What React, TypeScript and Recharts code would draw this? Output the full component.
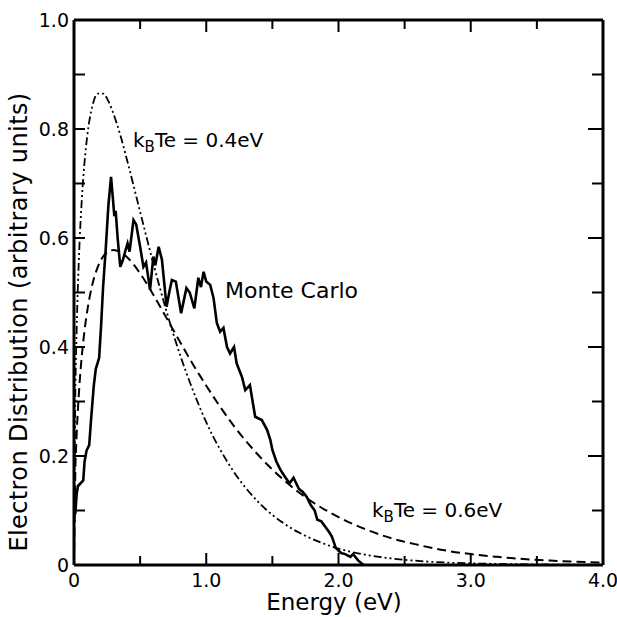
import React from "react";
import { LineChart, Line, XAxis, YAxis } from "recharts";

// Theory curves
const energyTheory = [0, 0.01, 0.02, 0.04, 0.06, 0.08, 0.1, 0.14, 0.18, 0.22, 0.26, 0.3, 0.35, 0.4, 0.5, 0.6, 0.7, 0.8, 0.9, 1.0, 1.2, 1.4, 1.6, 1.8, 2.0, 2.2, 2.4, 2.6, 2.8, 3.0, 3.2, 3.4, 3.6, 3.8, 4.0];
const kT04 = [0, 0.31, 0.43, 0.58, 0.674, 0.74, 0.787, 0.843, 0.865, 0.865, 0.851, 0.827, 0.789, 0.744, 0.648, 0.553, 0.465, 0.387, 0.32, 0.262, 0.174, 0.114, 0.074, 0.048, 0.03, 0.019, 0.012, 0.0075, 0.0047, 0.003, 0.002, 0.0013, 0.0009, 0.0006, 0.0004];
const kT06 = [0, 0.171, 0.238, 0.326, 0.386, 0.431, 0.466, 0.516, 0.547, 0.566, 0.575, 0.578, 0.574, 0.565, 0.535, 0.496, 0.453, 0.41, 0.368, 0.329, 0.258, 0.2, 0.153, 0.116, 0.088, 0.066, 0.049, 0.037, 0.027, 0.02, 0.015, 0.011, 0.0082, 0.006, 0.0044];

// Monte Carlo curve
const mcEnergy = [0.0, 0.01, 0.02, 0.03, 0.05, 0.07, 0.08, 0.095, 0.115, 0.13, 0.15, 0.165, 0.19, 0.205, 0.22, 0.24, 0.26, 0.28, 0.295, 0.305, 0.315, 0.33, 0.35, 0.37, 0.39, 0.405, 0.42, 0.45, 0.47, 0.5, 0.525, 0.545, 0.575, 0.6, 0.615, 0.64, 0.665, 0.7, 0.72, 0.74, 0.77, 0.81, 0.85, 0.875, 0.91, 0.94, 0.96, 0.98, 1.0, 1.03, 1.055, 1.08, 1.105, 1.13, 1.157, 1.18, 1.21, 1.23, 1.27, 1.295, 1.33, 1.37, 1.42, 1.46, 1.485, 1.5, 1.53, 1.56, 1.6, 1.63, 1.66, 1.7, 1.73, 1.76, 1.79, 1.82, 1.84, 1.87, 1.9, 1.93, 1.95, 1.98, 2.02, 2.05, 2.09, 2.11, 2.15, 2.19];
const mcValue = [0.09, 0.095, 0.13, 0.145, 0.15, 0.155, 0.19, 0.21, 0.22, 0.27, 0.33, 0.36, 0.38, 0.44, 0.51, 0.58, 0.66, 0.712, 0.67, 0.64, 0.65, 0.6, 0.547, 0.56, 0.578, 0.59, 0.575, 0.633, 0.625, 0.584, 0.547, 0.555, 0.505, 0.566, 0.55, 0.584, 0.56, 0.474, 0.5, 0.523, 0.52, 0.462, 0.508, 0.5, 0.471, 0.527, 0.51, 0.538, 0.52, 0.514, 0.49, 0.444, 0.428, 0.435, 0.4, 0.388, 0.4, 0.37, 0.345, 0.321, 0.33, 0.272, 0.266, 0.248, 0.229, 0.211, 0.19, 0.175, 0.16, 0.15, 0.16, 0.14, 0.134, 0.125, 0.11, 0.1, 0.083, 0.08, 0.07, 0.06, 0.052, 0.031, 0.022, 0.02, 0.015, 0.02, 0.008, 0.0];

// Ticks
const xTicks = [0, 0.5, 1, 1.5, 2, 2.5, 3, 3.5, 4];
const xTickLabels = ["0", "", "1.0", "", "2.0", "", "3.0", "", "4.0"];
const yTicks = [0, 0.1, 0.2, 0.3, 0.4, 0.5, 0.6, 0.7, 0.8, 0.9, 1.0];
const yTickLabels = ["0", "", "0.2", "", "0.4", "", "0.6", "", "0.8", "", "1.0"];

const theoryData = energyTheory.map((e, i) => ({ e, a: kT04[i], b: kT06[i] }));
const mcData = mcEnergy.map((e, i) => ({ e, v: mcValue[i] }));

const FONT = "'DejaVu Sans', sans-serif";

const BottomTick = (props: any) => {
  const { x, y, index } = props;
  const inner = index > 0 && index < xTicks.length - 1;
  const len = index % 2 === 0 ? 12 : 9;
  return (
    <g>
      {inner && <line x1={x} x2={x} y1={y} y2={y - len} stroke="#000" strokeWidth={2} />}
      <text x={x} y={y + 22} textAnchor="middle" fontFamily={FONT} fontSize={19} fill="#000">
        {xTickLabels[index]}
      </text>
    </g>
  );
};

const TopTick = (props: any) => {
  const { x, y, index } = props;
  const inner = index > 0 && index < xTicks.length - 1;
  const len = index % 2 === 0 ? 12 : 9;
  return <g>{inner && <line x1={x} x2={x} y1={y} y2={y + len} stroke="#000" strokeWidth={2} />}</g>;
};

const LeftTick = (props: any) => {
  const { x, y, index } = props;
  const inner = index > 0 && index < yTicks.length - 1;
  return (
    <g>
      {inner && <line x1={x} x2={x + 11} y1={y} y2={y} stroke="#000" strokeWidth={2} />}
      <text x={x - 5} y={y} dy="0.36em" textAnchor="end" fontFamily={FONT} fontSize={19} fill="#000">
        {yTickLabels[index]}
      </text>
    </g>
  );
};

const RightTick = (props: any) => {
  const { x, y, index } = props;
  const inner = index > 0 && index < yTicks.length - 1;
  const len = index % 2 === 0 ? 15 : 11;
  return <g>{inner && <line x1={x} x2={x - len} y1={y} y2={y} stroke="#000" strokeWidth={2} />}</g>;
};

export default function App() {
  return (
    <div style={{ position: "fixed", left: 0, top: 0, width: 617, height: 617, background: "#fff" }}>
      <LineChart width={617} height={617} margin={{ top: 19, right: 13, bottom: 51, left: 73 }}>
        <XAxis
          xAxisId="b"
          dataKey="e"
          type="number"
          domain={[0, 4]}
          ticks={xTicks}
          allowDataOverflow
          height={1}
          tickSize={0}
          tickMargin={0}
          tick={<BottomTick />}
          axisLine={{ stroke: "#000", strokeWidth: 3 }}
        />
        <XAxis
          xAxisId="t"
          orientation="top"
          dataKey="e"
          type="number"
          domain={[0, 4]}
          ticks={xTicks}
          allowDataOverflow
          height={1}
          tickSize={0}
          tickMargin={0}
          tick={<TopTick />}
          axisLine={{ stroke: "#000", strokeWidth: 3 }}
        />
        <YAxis
          yAxisId="l"
          type="number"
          domain={[0, 1]}
          ticks={yTicks}
          allowDataOverflow
          width={1}
          tickSize={0}
          tickMargin={0}
          tick={<LeftTick />}
          axisLine={{ stroke: "#000", strokeWidth: 3 }}
        />
        <YAxis
          yAxisId="r"
          orientation="right"
          type="number"
          domain={[0, 1]}
          ticks={yTicks}
          allowDataOverflow
          width={1}
          tickSize={0}
          tickMargin={0}
          tick={<RightTick />}
          axisLine={{ stroke: "#000", strokeWidth: 3 }}
        />
        <Line
          xAxisId="b"
          yAxisId="l"
          data={theoryData}
          dataKey="a"
          type="monotone"
          stroke="#000"
          strokeWidth={1.8}
          strokeDasharray="8 3 2 3 2 3"
          dot={false}
          activeDot={false}
          isAnimationActive={false}
        />
        <Line
          xAxisId="b"
          yAxisId="l"
          data={theoryData}
          dataKey="b"
          type="monotone"
          stroke="#000"
          strokeWidth={2}
          strokeDasharray="9 5"
          dot={false}
          activeDot={false}
          isAnimationActive={false}
        />
        <Line
          xAxisId="b"
          yAxisId="l"
          data={mcData}
          dataKey="v"
          type="linear"
          stroke="#000"
          strokeWidth={2.6}
          dot={false}
          activeDot={false}
          isAnimationActive={false}
        />
        <g fontFamily={FONT} fill="#000">
          <text x={225} y={298} fontSize={22}>Monte Carlo</text>
          <text x={133} y={147} fontSize={20}>
            k<tspan fontSize={15} dy={5}>B</tspan>
            <tspan dy={-5}>Te = 0.4eV</tspan>
          </text>
          <text x={372} y={517} fontSize={20}>
            k<tspan fontSize={15} dy={5}>B</tspan>
            <tspan dy={-5}>Te = 0.6eV</tspan>
          </text>
          <text x={334} y={610} fontSize={23} textAnchor="middle">Energy (eV)</text>
          <text
            x={27}
            y={322}
            fontSize={24}
            letterSpacing={0.4}
            textAnchor="middle"
            transform="rotate(-90 27 322)"
          >
            Electron Distribution (arbitrary units)
          </text>
        </g>
      </LineChart>
    </div>
  );
}
